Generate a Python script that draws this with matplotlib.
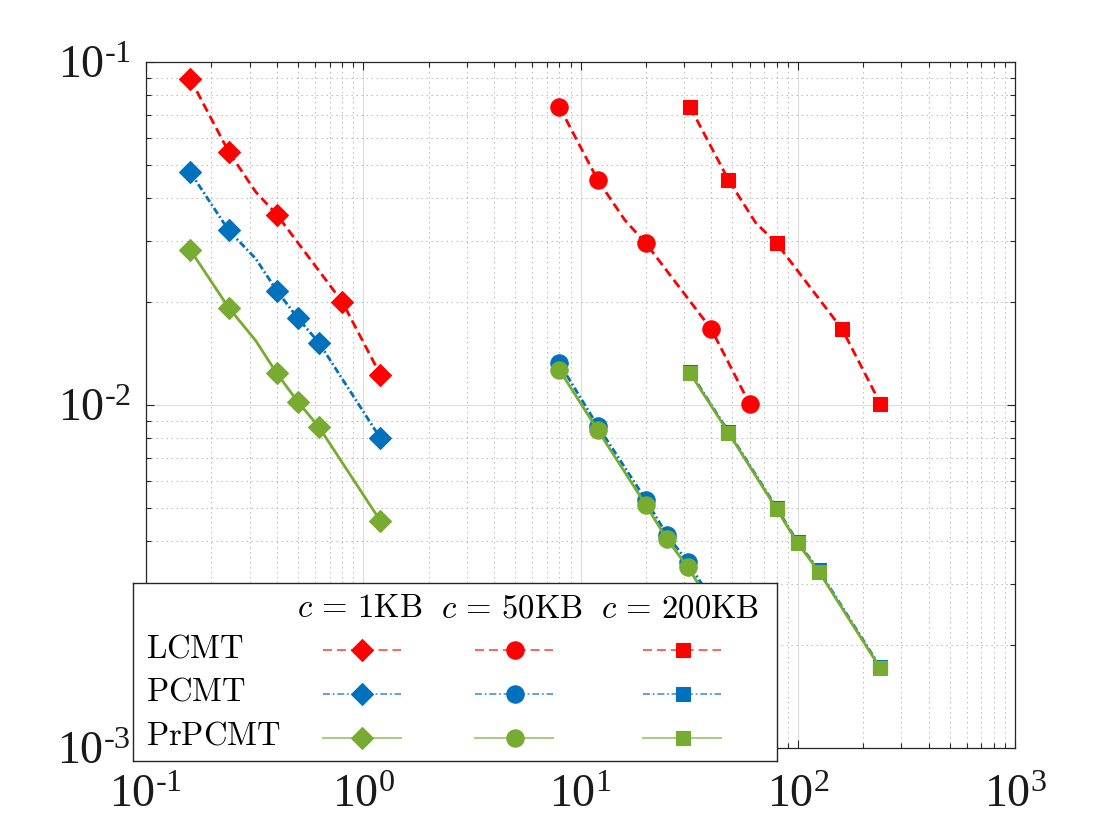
import numpy as np
import matplotlib
matplotlib.use('Agg')
import matplotlib.pyplot as plt
from matplotlib.ticker import LogLocator, FuncFormatter, NullFormatter
from matplotlib.mathtext import MathTextParser

# ---------------- data ----------------
# c = 1KB
x_1kb_lcmt = [0.16, 0.24, 0.32, 0.40, 0.80, 1.20]
y_1kb_lcmt = [0.0892, 0.0548, 0.0418, 0.0359, 0.0200, 0.01224]
mk_1kb_lcmt = [0, 1, 3, 4, 5]
x_1kb_pcmt = [0.16, 0.24, 0.32, 0.40, 0.50, 0.625, 1.20]
y_1kb_pcmt = [0.0477, 0.0323, 0.0267, 0.02154, 0.0179, 0.0152, 0.0080]
y_1kb_prpcmt = [0.0283, 0.01923, 0.0154, 0.01237, 0.01022, 0.00863, 0.00459]
mk_1kb_pcmt = [0, 1, 3, 4, 5, 6]
# c = 50KB
x_50kb_lcmt = [8, 12, 16, 20, 40, 60]
y_50kb_lcmt = [0.0740, 0.0453, 0.0346, 0.0296, 0.01664, 0.01008]
mk_50kb_lcmt = [0, 1, 3, 4, 5]
x_50kb_pcmt = [8, 12, 20, 25, 31.25, 60]
y_50kb_pcmt = [0.01323, 0.00869, 0.00529, 0.00418, 0.00348, 0.00181]
y_50kb_prpcmt = [0.01265, 0.00845, 0.00511, 0.00406, 0.00336, 0.00175]
# c = 200KB
x_200kb_lcmt = [32, 48, 64, 80, 160, 240]
y_200kb_lcmt = [0.0738, 0.0453, 0.0340, 0.0296, 0.01664, 0.0101]
mk_200kb_lcmt = [0, 1, 3, 4, 5]
x_200kb_pcmt = [32, 48, 80, 100, 125, 240]
y_200kb_pcmt = [0.01246, 0.00836, 0.00501, 0.00398, 0.00330, 0.00172]
y_200kb_prpcmt = [0.01237, 0.00830, 0.00497, 0.00395, 0.00327, 0.001707]

methods = ['LCMT', 'PCMT', 'PrPCMT']
sizes = [r'$c\,=\,1\mathrm{KB}$', r'$c\,=\,50\mathrm{KB}$', r'$c\,=\,200\mathrm{KB}$']

# ---------------- styles ----------------
RED = '#FF0000'
BLUE = '#0072BD'
GREEN = '#77AC30'
RED_L = '#FF6262'
BLUE_L = '#5DA6D6'
GREEN_L = '#A6CC7A'
DASH = (0, (6.5, 3.5))
DASHDOT = (0, (5, 2, 1.3, 2))

plt.rcParams['lines.scale_dashes'] = False
plt.rcParams['mathtext.fontset'] = 'custom'
plt.rcParams['mathtext.rm'] = 'Liberation Serif'
plt.rcParams['mathtext.it'] = 'Liberation Serif:italic'
plt.rcParams['font.family'] = ['Liberation Serif', 'DejaVu Serif']

try:
    MathTextParser('path').parse(r'$10^{\text{-}1}$')
    HAS_TEXT = True
except Exception:
    HAS_TEXT = False


def fmt(v, pos):
    e = int(round(np.log10(v)))
    if e < 0:
        ex = (r'\text{-}%d' % -e) if HAS_TEXT else ('-%d' % -e)
    else:
        ex = '%d' % e
    return r'$10^{%s}$' % ex


fig = plt.figure(figsize=(11.2, 8.4), dpi=100)
W, H = 1120, 840
ax = fig.add_axes([146 / W, 1 - 748 / H, (1015 - 146) / W, (748 - 62) / H])
ax.set_xscale('log')
ax.set_yscale('log')
ax.set_xlim(1e-1, 1e3)
ax.set_ylim(1e-3, 1e-1)

series = [
    (x_1kb_lcmt, y_1kb_lcmt, mk_1kb_lcmt, RED, DASH, 'D', 11),
    (x_1kb_pcmt, y_1kb_pcmt, mk_1kb_pcmt, BLUE, DASHDOT, 'D', 11),
    (x_1kb_pcmt, y_1kb_prpcmt, mk_1kb_pcmt, GREEN, '-', 'D', 11),
    (x_50kb_lcmt, y_50kb_lcmt, mk_50kb_lcmt, RED, DASH, 'o', 12.5),
    (x_50kb_pcmt, y_50kb_pcmt, None, BLUE, DASHDOT, 'o', 12.5),
    (x_50kb_pcmt, y_50kb_prpcmt, None, GREEN, '-', 'o', 12.5),
    (x_200kb_lcmt, y_200kb_lcmt, mk_200kb_lcmt, RED, DASH, 's', 9.5),
    (x_200kb_pcmt, y_200kb_pcmt, None, BLUE, DASHDOT, 's', 9.5),
    (x_200kb_pcmt, y_200kb_prpcmt, None, GREEN, '-', 's', 9.5),
]
for xs, ys, mk, col, ls, m, ms in series:
    ax.plot(xs, ys, color=col, linestyle=ls, linewidth=2.0, marker=m,
            markersize=ms, markevery=mk, markerfacecolor=col,
            markeredgecolor=col, markeredgewidth=0.8, zorder=3)

ax.xaxis.set_major_locator(LogLocator(base=10, numticks=10))
ax.yaxis.set_major_locator(LogLocator(base=10, numticks=10))
ax.xaxis.set_minor_locator(LogLocator(base=10, subs=np.arange(2, 10), numticks=50))
ax.yaxis.set_minor_locator(LogLocator(base=10, subs=np.arange(2, 10), numticks=50))
ax.xaxis.set_major_formatter(FuncFormatter(fmt))
ax.yaxis.set_major_formatter(FuncFormatter(fmt))
ax.xaxis.set_minor_formatter(NullFormatter())
ax.yaxis.set_minor_formatter(NullFormatter())

ax.set_axisbelow(True)
ax.grid(True, which='major', color='#dcdcdc', linewidth=0.8, linestyle='-')
ax.grid(True, which='minor', color='#b5b5b5', linewidth=0.7, linestyle=(0, (1, 2.6)))

ax.tick_params(which='both', direction='in', top=True, right=True,
               color='#262626', width=0.8)
ax.tick_params(which='major', length=6)
ax.tick_params(which='minor', length=3.5)
ax.tick_params(axis='x', which='major', labelsize=33, pad=19, labelcolor='#1a1a1a')
ax.tick_params(axis='y', which='major', labelsize=33, pad=11, labelcolor='#1a1a1a')
for sp in ax.spines.values():
    sp.set_color('#262626')
    sp.set_linewidth(0.9)

# ---------------- legend (custom grid layout) ----------------
L, R, T, B = 133, 777, 583, 761
lax = fig.add_axes([L / W, 1 - B / H, (R - L) / W, (B - T) / H])
lax.set_xlim(L, R)
lax.set_ylim(B, T)
lax.set_xticks([])
lax.set_yticks([])
lax.set_facecolor('white')
for sp in lax.spines.values():
    sp.set_color('#262626')
    sp.set_linewidth(1.0)

col_x = [(323, 401, 362), (475, 553, 515), (643, 721, 683)]
head_x = [360, 512, 680]
row_y = [650, 694, 737.5]
row_base = [657, 700.5, 744]
row_styles = [(RED, RED_L, DASH), (BLUE, BLUE_L, DASHDOT), (GREEN, GREEN_L, '-')]
col_markers = [('D', 11), ('o', 12.5), ('s', 9.5)]

for j, s in enumerate(sizes):
    lax.text(head_x[j], 617, s, fontsize=23.5, ha='center', va='baseline',
             math_fontfamily='cm')
for i, name in enumerate(methods):
    lax.text(146, row_base[i], r'$\mathrm{%s}$' % name, fontsize=23.5,
             ha='left', va='baseline', math_fontfamily='cm')
    col, col_l, ls = row_styles[i]
    for j, (x0, x1, xm) in enumerate(col_x):
        m, ms = col_markers[j]
        lax.plot([x0, x1], [row_y[i], row_y[i]], color=col_l, linestyle=ls,
                 linewidth=1.4)
        lax.plot([xm], [row_y[i]], marker=m, markersize=ms, color=col,
                 markeredgecolor=col, markeredgewidth=0.8, linestyle='none')

fig.savefig('out.png', dpi=100)
